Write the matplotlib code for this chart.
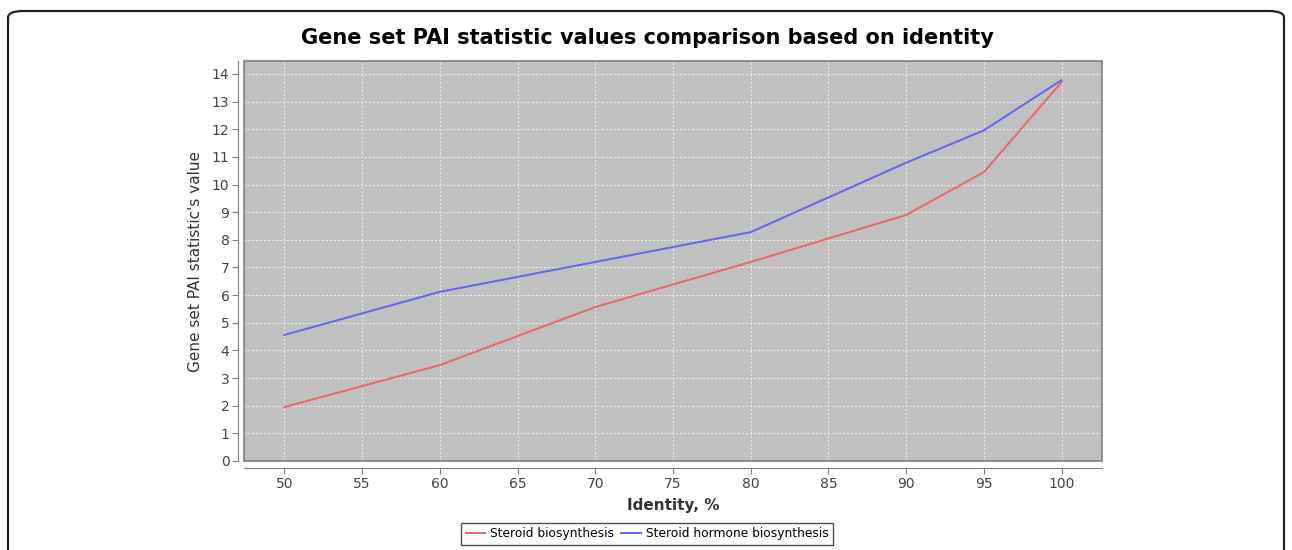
import matplotlib.pyplot as plt
from matplotlib.patches import FancyBboxPatch, Rectangle

# identity thresholds (%)
identity = [50, 60, 70, 80, 90, 95, 100]
steroid_biosynthesis = [1.95, 3.47, 5.57, 7.2, 8.9, 10.45, 13.71]
steroid_hormone = [4.56, 6.12, 7.2, 8.28, 10.79, 11.96, 13.78]
xticks = [50, 55, 60, 65, 70, 75, 80, 85, 90, 95, 100]
yticks = list(range(0, 15))

fig = plt.figure(figsize=(12.92, 5.5), dpi=100)
ax = fig.add_axes([244/1292, 1 - 461/550, (1102-244)/1292, (461-61)/550])

# rounded outer frame (bottom edge runs off the image)
fig.add_artist(FancyBboxPatch((8/1292, -0.05), 1276/1292, 1.05 - 11/550,
                              boxstyle="round,pad=0,rounding_size=0.012",
                              transform=fig.transFigure, fill=False,
                              edgecolor='#222222', linewidth=1.6, clip_on=False))

ax.set_facecolor('#c0c0c0')
ax.plot(identity, steroid_biosynthesis, color='#f06464', lw=1.4, label='Steroid biosynthesis')
ax.plot(identity, steroid_hormone, color='#6464f0', lw=1.4, label='Steroid hormone biosynthesis')

ax.set_xlim(47.4, 102.6)
ax.set_ylim(0, 14.47)
ax.set_xticks(xticks)
ax.set_yticks(yticks)
ax.grid(True, color='#eeeeee', linestyle=(0, (2, 2)), linewidth=0.7)
ax.set_axisbelow(True)

for s in ['top', 'right']:
    ax.spines[s].set_visible(False)
ax.spines['left'].set_position(('outward', 4))
ax.spines['bottom'].set_position(('outward', 5))
for s in ['left', 'bottom']:
    ax.spines[s].set_color('#808080')
ax.add_patch(Rectangle((0, 0), 1, 1, transform=ax.transAxes, fill=False,
                       edgecolor='#808080', lw=1.2, clip_on=False))
ax.tick_params(colors='#808080', labelcolor='#444444', labelsize=10, length=4, pad=2.5)

fig.text(647/1292, 1 - 38/550, 'Gene set PAI statistic values comparison based on identity',
         fontsize=15, fontweight='heavy', ha='center', va='center')
ax.set_xlabel('Identity, %', fontsize=11, fontweight='bold', color='#333333', labelpad=5)
ax.set_ylabel("Gene set PAI statistic's value", fontsize=11, color='#333333', labelpad=6)

leg = fig.legend(loc='center', bbox_to_anchor=(647/1292, 16/550), ncol=2,
                 fontsize=8.8, frameon=True, fancybox=False, handlelength=1.6,
                 columnspacing=0.6, handletextpad=0.4, borderpad=0.4)
leg.get_frame().set_edgecolor('#222222')
leg.get_frame().set_linewidth(1.0)

fig.savefig('out.png', dpi=100)
